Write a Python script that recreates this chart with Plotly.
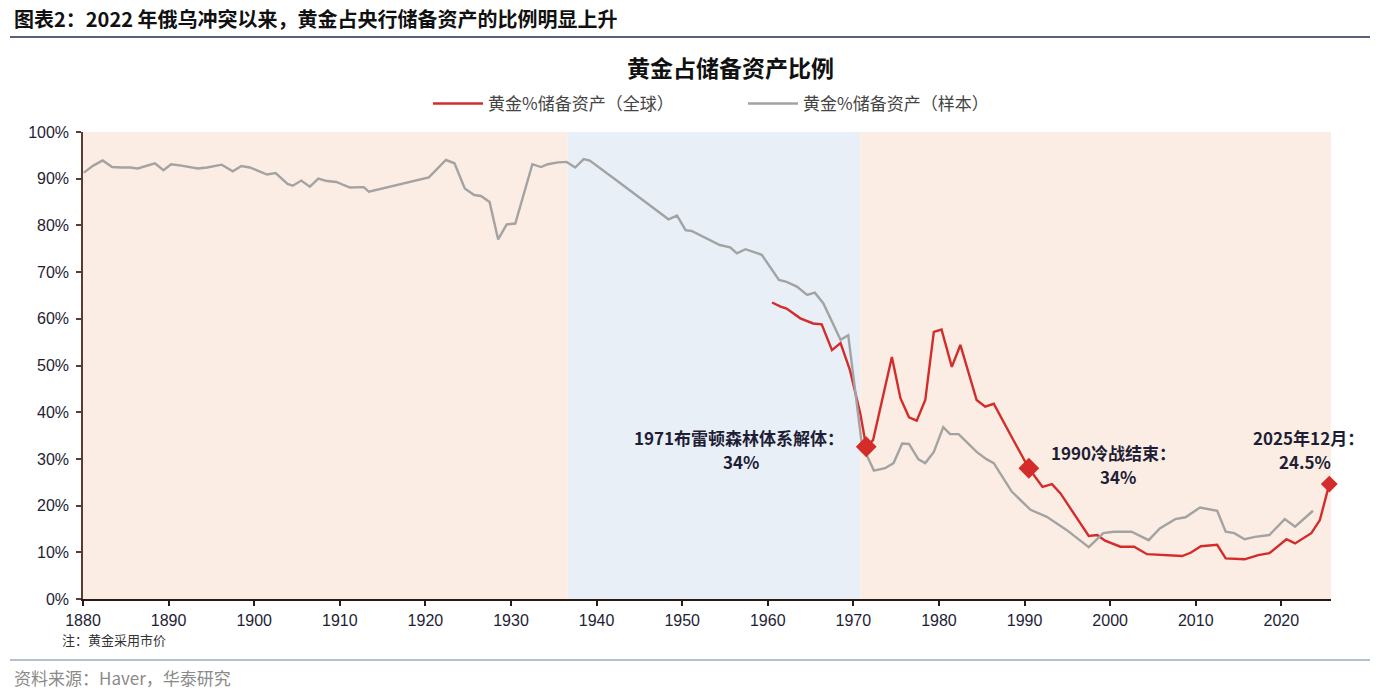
import plotly.graph_objects as go

# ---------------- data ----------------
sample_years = [1880.1, 1881.2, 1882.3, 1883.4, 1884.5, 1885.5, 1886.4, 1887.4, 1888.4, 1889.4,
                1890.3, 1891.5, 1892.5, 1893.4, 1894.5, 1895.5, 1896.2, 1897.5, 1898.5, 1899.5,
                1900.5, 1901.5, 1902.5, 1903.9, 1904.5, 1905.5, 1906.5, 1907.5, 1908.5, 1909.6,
                1910.5, 1911.2, 1912.8, 1913.4, 1920.4, 1922.4, 1923.4, 1924.6, 1925.7, 1926.5,
                1927.5, 1928.5, 1929.5, 1930.5, 1932.5, 1933.5, 1934.3, 1935.5, 1936.5, 1937.5,
                1938.5, 1939.2, 1942.0, 1945.0, 1948.4, 1949.4, 1950.4, 1951.1, 1952.9, 1954.4,
                1955.6, 1956.4, 1957.4, 1959.3, 1961.3, 1962.2, 1963.4, 1964.6, 1965.5, 1966.5,
                1968.5, 1969.4, 1971.0, 1972.4, 1973.7, 1974.7, 1975.7, 1976.5, 1977.6, 1978.4,
                1979.4, 1980.5, 1981.3, 1982.3, 1984.4, 1985.5, 1986.4, 1988.5, 1990.7, 1992.6,
                1994.9, 1997.5, 1999.2, 2000.4, 2002.5, 2004.5, 2005.8, 2007.6, 2008.8, 2010.5,
                2012.5, 2013.5, 2014.5, 2015.7, 2016.9, 2018.6, 2020.4, 2021.6, 2023.7]
sample_pct = [91.3, 92.8, 93.9, 92.5, 92.4, 92.4, 92.2, 92.8, 93.3, 91.8,
              93.1, 92.8, 92.5, 92.2, 92.4, 92.7, 93.0, 91.6, 92.7, 92.4,
              91.6, 90.9, 91.2, 88.9, 88.5, 89.6, 88.3, 90.0, 89.5, 89.3,
              88.6, 88.1, 88.2, 87.2, 90.3, 94.0, 93.3, 87.9, 86.5, 86.3,
              85.0, 77.0, 80.2, 80.4, 93.1, 92.5, 93.1, 93.5, 93.6, 92.4,
              94.2, 93.9, 90.1, 85.9, 81.3, 82.1, 79.0, 78.8, 77.2, 75.8,
              75.3, 74.0, 74.9, 73.7, 68.3, 67.9, 66.9, 65.1, 65.6, 63.3,
              55.5, 56.5, 33.0, 27.5, 28.0, 29.1, 33.3, 33.2, 29.9, 29.1,
              31.5, 36.8, 35.3, 35.3, 31.5, 30.0, 29.1, 23.0, 19.1, 17.6,
              14.8, 11.1, 14.1, 14.4, 14.4, 12.6, 15.1, 17.1, 17.5, 19.6,
              18.9, 14.4, 14.1, 12.8, 13.3, 13.7, 17.1, 15.5, 18.9]

global_years = [1960.5, 1961.5, 1962.2, 1963.8, 1965.3, 1966.3, 1967.5, 1968.5, 1969.6, 1970.8,
                1971.5, 1972.3, 1974.5, 1975.5, 1976.5, 1977.4, 1978.4, 1979.4, 1980.3, 1981.5,
                1982.5, 1984.4, 1985.4, 1986.4, 1988.7, 1990.5, 1992.1, 1993.2, 1994.2, 1997.5,
                1998.5, 1999.4, 2001.2, 2002.8, 2004.3, 2006.6, 2008.4, 2009.4, 2010.6, 2012.5,
                2013.5, 2015.7, 2017.3, 2018.6, 2020.6, 2021.6, 2023.5, 2024.5, 2025.6]
global_pct = [63.5, 62.6, 62.2, 60.1, 59.0, 58.8, 53.3, 54.8, 49.0, 39.8,
              32.6, 34.0, 51.8, 43.0, 38.9, 38.2, 42.6, 57.2, 57.7, 49.7,
              54.4, 42.6, 41.2, 41.8, 34.0, 28.0, 24.0, 24.6, 22.6, 13.5,
              13.7, 12.5, 11.2, 11.2, 9.6, 9.4, 9.2, 9.9, 11.3, 11.6,
              8.7, 8.5, 9.4, 9.8, 12.8, 11.9, 14.1, 16.9, 24.6]

marker_years = [1971.5, 1990.5, 2025.6]
marker_pct = [32.6, 28.0, 24.6]
marker_sizes = [16, 16, 13]

# shaded periods: (start, end, colour key)
period_bounds = [1880, 1936.6, 1970.8, 2025.8]
period_kinds = ["gold", "bw", "gold"]

x_ticks = list(range(1880, 2021, 10))
y_ticks = list(range(0, 101, 10))

series_names = ["黄金%储备资产（全球）", "黄金%储备资产（样本）"]

# ---------------- styling ----------------
W, H = 1380, 698
L, R, T, B = 83, 1331, 132, 599
RED = "#D42B2B"
GREY = "#A3A3A3"
TXT = "#1E1E36"
FONT = "Liberation Sans, Arial, Noto Sans CJK SC, sans-serif"
CJK = "Noto Sans CJK SC, Liberation Sans, sans-serif"


def px(xp):
    return (xp - L) / (R - L)


def py(yp):
    return (B - yp) / (B - T)


fig = go.Figure()

fig.add_trace(go.Scatter(x=global_years, y=global_pct, mode="lines", name=series_names[0],
                         line=dict(color=RED, width=2.4)))
fig.add_trace(go.Scatter(x=sample_years, y=sample_pct, mode="lines", name=series_names[1],
                         line=dict(color=GREY, width=2.4)))
fig.add_trace(go.Scatter(x=marker_years, y=marker_pct, mode="markers", showlegend=False,
                         cliponaxis=False, opacity=1,
                         marker=dict(symbol="diamond", color=RED, size=marker_sizes, opacity=1,
                                     line=dict(width=0))))

shade_colors = {"gold": "#FBEDE3", "bw": "#E9EFF7"}
shapes = []
for i, kind in enumerate(period_kinds):
    shapes.append(dict(type="rect", xref="x", yref="y", x0=period_bounds[i], x1=period_bounds[i + 1],
                       y0=0, y1=100, fillcolor=shade_colors[kind], line=dict(width=0), layer="below"))
# header / footer rules
shapes.append(dict(type="line", xref="paper", yref="paper", x0=px(10), x1=px(1370), y0=py(37), y1=py(37),
                   line=dict(color="#1F2D4D", width=1.5)))
shapes.append(dict(type="line", xref="paper", yref="paper", x0=px(10), x1=px(1370), y0=py(660), y1=py(660),
                   line=dict(color="#9AAAC4", width=1.5)))

ann_font = dict(family=CJK, size=17, color=TXT, weight="bold")
annotations = [
    dict(text="<b>图表2：2022 年俄乌冲突以来，黄金占央行储备资产的比例明显上升</b>", xref="paper", yref="paper",
         x=px(12), y=py(19), xanchor="left", yanchor="middle", showarrow=False,
         font=dict(family=CJK, size=20, color="#111111")),
    dict(text="<b>黄金占储备资产比例</b>", xref="paper", yref="paper", x=px(730), y=py(67),
         xanchor="center", yanchor="middle", showarrow=False,
         font=dict(family=CJK, size=23, color="#111111")),
    dict(text="1971布雷顿森林体系解体：", xref="paper", yref="paper", x=px(846), y=py(437),
         xanchor="right", yanchor="middle", showarrow=False, font=ann_font),
    dict(text="34%", xref="paper", yref="paper", x=px(741), y=py(461),
         xanchor="center", yanchor="middle", showarrow=False, font=ann_font),
    dict(text="1990冷战结束：", xref="paper", yref="paper", x=px(1113), y=py(452),
         xanchor="center", yanchor="middle", showarrow=False, font=ann_font),
    dict(text="34%", xref="paper", yref="paper", x=px(1118), y=py(476),
         xanchor="center", yanchor="middle", showarrow=False, font=ann_font),
    dict(text="2025年12月：", xref="paper", yref="paper", x=px(1308), y=py(437),
         xanchor="center", yanchor="middle", showarrow=False, font=ann_font),
    dict(text="24.5%", xref="paper", yref="paper", x=px(1305), y=py(461),
         xanchor="center", yanchor="middle", showarrow=False, font=ann_font),
    dict(text="注：黄金采用市价", xref="paper", yref="paper", x=px(60), y=py(639),
         xanchor="left", yanchor="middle", showarrow=False,
         font=dict(family=CJK, size=13, color="#333333")),
    dict(text="资料来源：Haver，华泰研究", xref="paper", yref="paper", x=px(12), y=py(677),
         xanchor="left", yanchor="middle", showarrow=False,
         font=dict(family=CJK, size=17, color="#8A8A8A")),
]

fig.update_layout(
    width=W, height=H,
    margin=dict(l=L, r=W - R, t=T, b=H - B, pad=0),
    paper_bgcolor="white", plot_bgcolor="white",
    font=dict(family=FONT, size=16, color=TXT),
    shapes=shapes, annotations=annotations,
    showlegend=True,
    legend=dict(orientation="h", xref="paper", yref="paper", x=px(428), y=py(104),
                xanchor="left", yanchor="middle", entrywidth=250, entrywidthmode="pixels",
                font=dict(family=CJK, size=17, color="#444444"), bgcolor="rgba(0,0,0,0)",
                itemwidth=50, tracegroupgap=0),
    xaxis=dict(range=[1880, 2025.8], tickmode="array", tickvals=x_ticks,
               ticktext=[str(v) for v in x_ticks], showgrid=False, zeroline=False,
               showline=True, linecolor="#2A1A16", linewidth=1.5, ticks="outside",
               tickcolor="#2A1A16", ticklen=5, tickwidth=1.5, ticklabelstandoff=1,
               tickfont=dict(family=FONT, size=16, color=TXT)),
    yaxis=dict(range=[0, 100], tickmode="array", tickvals=y_ticks,
               ticktext=[f"{v}%" for v in y_ticks], showgrid=False, zeroline=False,
               showline=True, linecolor="#5B3B33", linewidth=1.5, ticks="outside",
               tickcolor="#5B3B33", ticklen=5, tickwidth=1.5, ticklabelstandoff=4,
               tickfont=dict(family=FONT, size=16, color=TXT)),
)

fig.write_html("out.html")
